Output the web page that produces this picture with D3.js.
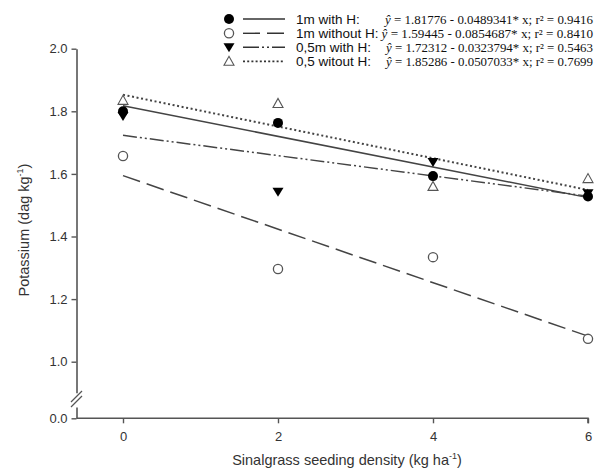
<!DOCTYPE html>
<html>
<head>
<meta charset="utf-8">
<script src="https://cdn.jsdelivr.net/npm/d3@7"></script>
<style>
  html, body { margin: 0; padding: 0; background: #fff; }
  svg { display: block; }
</style>
</head>
<body>
<svg id="chart" width="597" height="473"></svg>
<script>
// Seeding densities (kg/ha)
const densities = [0, 2, 4, 6];
const xTicks = [0, 2, 4, 6];
const yTicks = [1.0, 1.2, 1.4, 1.6, 1.8, 2.0];

// Potassium (dag/kg) per treatment
const withH1m = [1.800, 1.763, 1.593, 1.528];
const withoutH1m = [1.657, 1.296, 1.334, 1.073];
const withH05 = [1.785, 1.543, 1.638, 1.538];
const withoutH05 = [1.835, 1.825, 1.560, 1.585];

// Fitted regression coefficients [intercept, slope, r²]
const names = ["1m with H:", "1m without H:", "0,5m with H:", "0,5 witout H:"];
const intercepts = [1.81776, 1.59445, 1.72312, 1.85286];
const slopes = ["0.0489341", "0.0854687", "0.0323794", "0.0507033"];
const r2 = ["0.9416", "0.8410", "0.5463", "0.7699"];

const seriesValues = [withH1m, withoutH1m, withH05, withoutH05];
const symbols = ["circleFilled", "circleOpen", "triDownFilled", "triUpOpen"];
const dashes = [null, "18,7", "14,3,2,3,2,3", "2,2.6"];

const svg = d3.select("#chart");
const axisInk = "#555";

// Scales: upper section of the broken axis and the baseline at 0
const x = d3.scaleLinear().domain([-0.6, 6]).range([76.5, 588]);
const y = d3.scaleLinear().domain([0.9, 2.0]).range([393, 48.7]);
const yLow = d3.scaleLinear().domain([0, 0.035]).range([418.3, 407]);

// X axis along the baseline
const xAxis = svg.append("g")
  .attr("transform", "translate(0,418.3)")
  .call(d3.axisBottom(x).tickValues(xTicks).tickFormat(d3.format("d")).tickSize(5).tickSizeOuter(0).tickPadding(6));
xAxis.select(".domain").attr("d", `M${x(-0.6)},0H${x(6)}V5`);

// Y axis, upper section
const yAxis = svg.append("g")
  .attr("transform", "translate(76.5,0)")
  .call(d3.axisLeft(y).tickValues(yTicks).tickFormat(d3.format(".1f")).tickSize(5).tickSizeOuter(0).tickPadding(4));

// Y axis, lower stub with the 0.0 tick
const yAxisLow = svg.append("g")
  .attr("transform", "translate(76.5,0)")
  .call(d3.axisLeft(yLow).tickValues([0]).tickFormat(d3.format(".1f")).tickSize(5).tickSizeOuter(0).tickPadding(4));

[xAxis, yAxis, yAxisLow].forEach(g => {
  g.selectAll(".domain").attr("stroke", axisInk).attr("stroke-width", 1.6).attr("fill", "none");
  g.selectAll(".tick line").attr("stroke", axisInk).attr("stroke-width", 1.4);
  g.selectAll(".tick text")
    .attr("fill", "#333")
    .style("font-family", "'Liberation Sans', Arial, sans-serif")
    .style("font-size", "13px");
});
xAxis.selectAll(".tick text").attr("dy", "0.9em");

// Axis break: clear a gap in the axis, then draw the two slashes
const breakMarks = [0, 5];
svg.append("line").attr("x1", 76.5).attr("x2", 76.5).attr("y1", 393.5).attr("y2", 406.5)
  .attr("stroke", "#fff").attr("stroke-width", 3);
svg.append("g").selectAll("line").data(breakMarks).join("line")
  .attr("x1", 71).attr("y1", d => 402 + d)
  .attr("x2", 82).attr("y2", d => 391 + d)
  .attr("stroke", axisInk).attr("stroke-width", 1.2);

// Axis titles
svg.append("text")
  .attr("x", 347).attr("y", 465)
  .attr("text-anchor", "middle")
  .attr("fill", "#333")
  .style("font-family", "'Liberation Sans', Arial, sans-serif")
  .style("font-size", "14.5px")
  .html('Sinalgrass seeding density (kg ha<tspan dy="-6" font-size="9px">-1</tspan><tspan dy="6">)</tspan>');

svg.append("text")
  .attr("transform", "translate(29,230) rotate(-90)")
  .attr("text-anchor", "middle")
  .attr("fill", "#333")
  .style("font-family", "'Liberation Sans', Arial, sans-serif")
  .style("font-size", "14.5px")
  .html('Potassium (dag kg<tspan dy="-6" font-size="9px">-1</tspan><tspan dy="6">)</tspan>');

// Regression lines
const plot = svg.append("g");
intercepts.forEach((b, i) => {
  const m = -parseFloat(slopes[i]);
  const line = d3.line().x(d => x(d)).y(d => y(b + m * d));
  plot.append("path")
    .datum([0, 6])
    .attr("d", line)
    .attr("fill", "none")
    .attr("stroke", "#444")
    .attr("stroke-width", i === 3 ? 2 : 1.5)
    .attr("stroke-dasharray", dashes[i]);
});

// Marker drawing
function drawSymbol(g, kind, cx, cy) {
  if (kind === "circleFilled") {
    g.append("circle").attr("cx", cx).attr("cy", cy).attr("r", 5).attr("fill", "#000");
  } else if (kind === "circleOpen") {
    g.append("circle").attr("cx", cx).attr("cy", cy).attr("r", 4.6)
      .attr("fill", "#fff").attr("stroke", "#555").attr("stroke-width", 1.3);
  } else if (kind === "triDownFilled") {
    g.append("path")
      .attr("d", `M${cx - 5.5},${cy - 4}L${cx + 5.5},${cy - 4}L${cx},${cy + 5}Z`)
      .attr("fill", "#000");
  } else {
    g.append("path")
      .attr("d", `M${cx - 5},${cy + 4}L${cx + 5},${cy + 4}L${cx},${cy - 5}Z`)
      .attr("fill", "#fff").attr("stroke", "#555").attr("stroke-width", 1.1);
  }
}

// Draw order: open markers first, filled on top
[1, 3, 2, 0].forEach(i => {
  const g = plot.append("g");
  densities.forEach((d, j) => drawSymbol(g, symbols[i], x(d), y(seriesValues[i][j])));
});

// Legend
const legendRows = [19, 33.3, 47.3, 61.3];
const eqX = [385, 381.5, 386, 386];
const legend = svg.append("g");
names.forEach((name, i) => {
  const ry = legendRows[i];
  drawSymbol(legend, symbols[i], 229, ry);
  legend.append("line")
    .attr("x1", 243).attr("x2", 285).attr("y1", ry).attr("y2", ry)
    .attr("stroke", "#333").attr("stroke-width", i === 3 ? 1.8 : 1.4)
    .attr("stroke-dasharray", i === 1 ? "17,7" : i === 2 ? "16,3,2,3,2,3" : i === 3 ? "2,2.2" : null);
  legend.append("text")
    .attr("x", 296).attr("y", ry + 5)
    .attr("fill", "#111")
    .style("font-family", "'Liberation Sans', Arial, sans-serif")
    .style("font-size", "13.5px")
    .text(name);
  const eq = legend.append("text")
    .attr("x", eqX[i]).attr("y", ry + 4.5)
    .attr("fill", "#111")
    .attr("textLength", 593 - eqX[i])
    .attr("lengthAdjust", "spacingAndGlyphs")
    .style("font-family", "'Liberation Serif', 'Times New Roman', serif")
    .style("font-size", "13px");
  eq.append("tspan").attr("font-style", "italic").text("ŷ");
  eq.append("tspan").text(` = ${intercepts[i].toFixed(5)} - ${slopes[i]}* x; r² = ${r2[i]}`);
});
</script>
</body>
</html>
